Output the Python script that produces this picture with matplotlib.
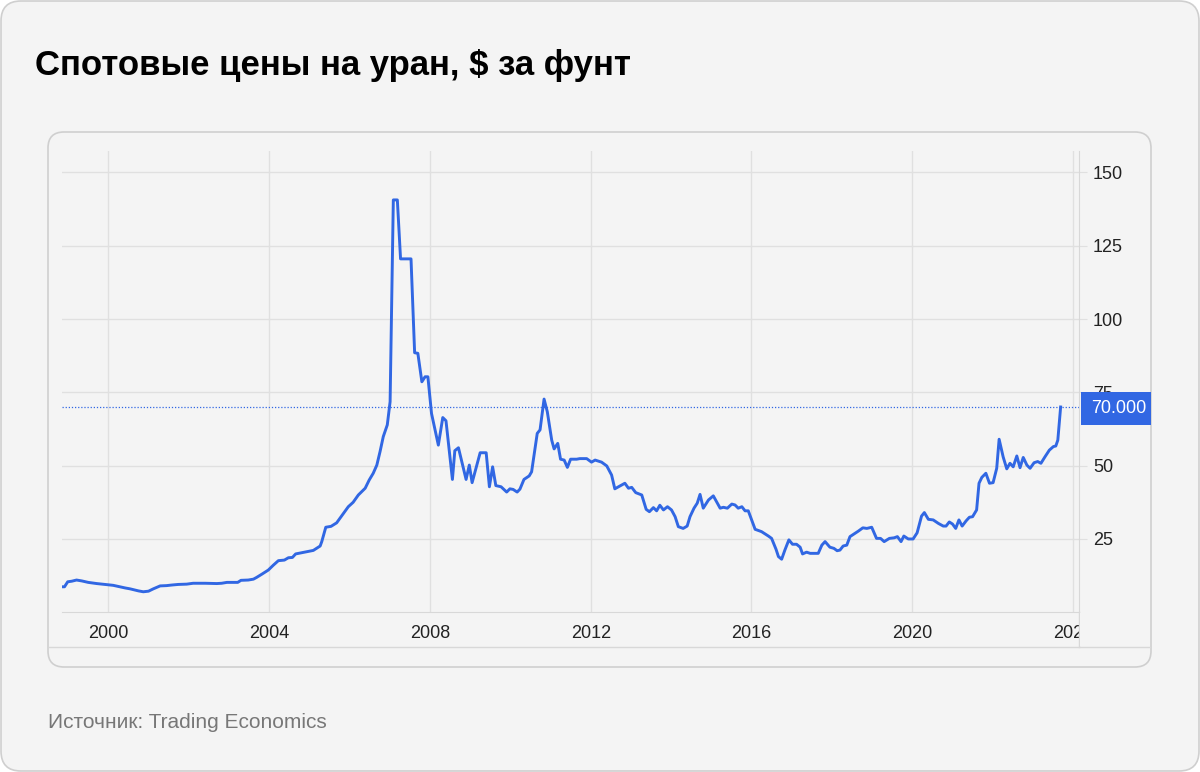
import matplotlib.pyplot as plt
from matplotlib.patches import FancyBboxPatch, Rectangle
from matplotlib.lines import Line2D
from matplotlib import font_manager

# uranium spot price, USD per lb
years = [1998.84, 1998.91, 1998.99, 1999.09, 1999.21, 1999.34, 1999.50, 1999.71, 1999.92,
         2000.12, 2000.42, 2000.54, 2000.75, 2000.87, 2001.00, 2001.12, 2001.29, 2001.45,
         2001.58, 2001.74, 2001.95, 2002.11, 2002.41, 2002.70, 2002.82, 2002.95, 2003.07,
         2003.22, 2003.30, 2003.48, 2003.61, 2003.69, 2003.82, 2003.98, 2004.10, 2004.23,
         2004.38, 2004.48, 2004.58, 2004.66, 2004.81, 2004.96, 2005.10, 2005.27, 2005.31,
         2005.41, 2005.54, 2005.68, 2005.85, 2005.97, 2006.09, 2006.22, 2006.30, 2006.39,
         2006.49, 2006.59, 2006.68, 2006.76, 2006.84, 2006.94, 2007.01, 2007.09, 2007.19,
         2007.27, 2007.53, 2007.62, 2007.70, 2007.80, 2007.88, 2007.95, 2008.04, 2008.21,
         2008.32, 2008.40, 2008.56, 2008.62, 2008.71, 2008.90, 2008.98, 2009.05, 2009.25,
         2009.40, 2009.48, 2009.56, 2009.64, 2009.77, 2009.91, 2009.99, 2010.07, 2010.17,
         2010.24, 2010.34, 2010.47, 2010.53, 2010.67, 2010.74, 2010.84, 2010.92, 2011.03,
         2011.09, 2011.18, 2011.25, 2011.34, 2011.42, 2011.50, 2011.65, 2011.73, 2011.90,
         2012.02, 2012.11, 2012.27, 2012.40, 2012.52, 2012.60, 2012.73, 2012.85, 2012.94,
         2013.02, 2013.12, 2013.27, 2013.38, 2013.46, 2013.56, 2013.64, 2013.72, 2013.81,
         2013.91, 2014.01, 2014.10, 2014.18, 2014.30, 2014.40, 2014.47, 2014.57, 2014.65,
         2014.72, 2014.80, 2014.93, 2015.05, 2015.22, 2015.30, 2015.40, 2015.51, 2015.59,
         2015.67, 2015.76, 2015.84, 2015.92, 2016.09, 2016.25, 2016.42, 2016.50, 2016.61,
         2016.67, 2016.75, 2016.83, 2016.93, 2017.02, 2017.12, 2017.21, 2017.27, 2017.37,
         2017.46, 2017.66, 2017.75, 2017.83, 2017.95, 2018.05, 2018.13, 2018.20, 2018.28,
         2018.37, 2018.45, 2018.57, 2018.66, 2018.77, 2018.87, 2018.99, 2019.11, 2019.21,
         2019.30, 2019.43, 2019.55, 2019.63, 2019.72, 2019.79, 2019.90, 2020.02, 2020.12,
         2020.23, 2020.30, 2020.40, 2020.52, 2020.65, 2020.77, 2020.84, 2020.92, 2021.00,
         2021.08, 2021.16, 2021.24, 2021.34, 2021.42, 2021.50, 2021.60, 2021.66, 2021.73,
         2021.83, 2021.92, 2022.01, 2022.10, 2022.16, 2022.26, 2022.35, 2022.43, 2022.51,
         2022.60, 2022.68, 2022.76, 2022.85, 2022.93, 2023.03, 2023.12, 2023.20, 2023.30,
         2023.41, 2023.51, 2023.57, 2023.62, 2023.69]
prices = [8.7, 8.7, 10.4, 10.6, 11.0, 10.7, 10.2, 9.8, 9.5,
          9.2, 8.3, 8.0, 7.3, 7.0, 7.2, 8.0, 9.0, 9.1,
          9.3, 9.5, 9.6, 9.9, 9.9, 9.8, 9.9, 10.2, 10.2,
          10.2, 10.9, 11.0, 11.3, 11.9, 13.0, 14.4, 16.0, 17.6,
          17.8, 18.6, 18.7, 19.9, 20.3, 20.7, 21.1, 22.6, 24.1,
          29.0, 29.3, 30.5, 33.7, 36.0, 37.5, 40.0, 41.1, 42.3,
          45.1, 47.4, 50.2, 54.8, 59.9, 63.9, 71.8, 140.6, 140.6,
          120.5, 120.5, 88.5, 88.3, 78.6, 80.3, 80.3, 67.8, 57.0,
          66.4, 65.3, 45.3, 55.1, 56.1, 45.3, 50.2, 44.2, 54.4,
          54.4, 42.8, 49.6, 43.2, 42.8, 41.0, 42.1, 41.9, 41.0,
          42.0, 45.3, 46.5, 47.9, 61.0, 62.2, 72.7, 68.4, 58.7,
          55.7, 57.6, 52.2, 51.9, 49.4, 52.2, 52.2, 52.4, 52.4,
          51.2, 51.9, 51.2, 49.9, 46.8, 42.1, 43.1, 44.0, 42.3,
          42.6, 40.8, 40.0, 35.1, 34.3, 35.7, 34.6, 36.5, 34.9,
          36.0, 34.9, 32.6, 29.2, 28.6, 29.4, 32.6, 35.5, 37.2,
          40.2, 35.5, 38.3, 39.7, 35.5, 35.8, 35.5, 36.9, 36.6,
          35.5, 36.0, 34.6, 34.6, 28.3, 27.5, 26.0, 25.2, 21.5,
          19.0, 18.1, 21.2, 24.7, 23.2, 23.2, 22.2, 19.9, 20.5,
          20.1, 20.1, 22.9, 24.1, 22.2, 21.8, 21.0, 21.2, 22.6,
          22.9, 25.8, 26.9, 27.7, 28.8, 28.6, 29.0, 25.2, 25.2,
          24.1, 25.2, 25.4, 25.8, 24.1, 26.0, 25.0, 25.0, 27.1,
          32.8, 34.0, 31.7, 31.5, 30.3, 29.4, 29.4, 30.8, 30.1,
          28.6, 31.5, 29.4, 31.2, 32.4, 32.6, 34.9, 44.0, 46.0,
          47.4, 44.0, 44.2, 49.1, 59.0, 53.0, 48.9, 50.8, 49.6,
          53.3, 49.3, 52.8, 50.2, 49.1, 51.0, 51.4, 50.8, 53.0,
          55.3, 56.5, 56.7, 58.7, 70.0]
last_price = 70.0
x_ticks = [2000, 2004, 2008, 2012, 2016, 2020, 2024]
y_ticks = [25, 50, 75, 100, 125, 150]

title = 'Спотовые цены на уран, $ за фунт'
source = 'Источник: Trading Economics'

W, H = 1200, 772
bg = '#f4f4f4'
blue = '#3167e3'
grid = '#e0e0e0'

fig = plt.figure(figsize=(12, 7.72), dpi=100)
fig.patch.set_facecolor('white')
plt.rcParams['font.family'] = ['Liberation Sans', 'DejaVu Sans']

# narrow face for the title if one is installed
installed = {f.name for f in font_manager.fontManager.ttflist}
title_family = 'Liberation Sans'
title_size = 25
for name in ['Liberation Sans Narrow', 'DejaVu Sans Condensed']:
    if name in installed:
        title_family = name
        title_size = 27
        break


def fx(px):
    return px / W


def fy(py):
    return 1 - py / H


def card(x0, y0, x1, y1, r, z):
    # rounded box given in pixel coords (y from top)
    p = FancyBboxPatch((x0 / 100, (H - y1) / 100), (x1 - x0) / 100, (y1 - y0) / 100,
                       boxstyle='round,pad=0,rounding_size=%f' % (r / 100),
                       transform=fig.dpi_scale_trans, facecolor=bg,
                       edgecolor='#cfcfcf', lw=1.2, zorder=z)
    fig.add_artist(p)


card(1, 1, 1199, 771, 20, -3)
card(48, 132, 1151, 667, 16, -2)

ax = fig.add_axes([fx(62), fy(612.3), (1079 - 62) / W, (612.3 - 150.5) / H])
ax.set_facecolor('none')
ax.plot(years, prices, color=blue, lw=2.1, solid_joinstyle='round', zorder=3)
ax.axhline(last_price, color=blue, lw=0.9, ls=(0, (1, 1.5)), zorder=2)

ax.set_xlim(1998.848, 2024.147)
ax.set_ylim(0, 157.45)
ax.set_xticks(x_ticks)
ax.set_xticklabels([str(v) for v in x_ticks])
ax.set_yticks(y_ticks)
ax.yaxis.tick_right()
ax.grid(color=grid, lw=1.0)
ax.tick_params(axis='x', length=0, pad=9, labelsize=13, labelcolor='#222222')
ax.tick_params(axis='y', length=6, color=grid, pad=4, labelsize=13, labelcolor='#222222')
for s in ['top', 'left']:
    ax.spines[s].set_visible(False)
for s in ['bottom', 'right']:
    ax.spines[s].set_color('#d8d8d8')

# frame lines under the plot
fig.add_artist(Line2D([fx(1079), fx(1079)], [fy(612), fy(647)], color='#d8d8d8', lw=1))
fig.add_artist(Line2D([fx(49), fx(1150)], [fy(647), fy(647)], color='#d8d8d8', lw=1))

# hide the part of the last year label past the plot edge
fig.add_artist(Rectangle((fx(1080), fy(646)), fx(70), 33 / H, facecolor=bg,
                         edgecolor='none', zorder=5))

# last value badge
fig.add_artist(Rectangle((fx(1081), fy(425)), fx(70), 33 / H, facecolor=blue,
                         edgecolor='none', zorder=6))
fig.text(fx(1091), fy(408.5), '%.3f' % last_price, color='white', fontsize=13,
         va='center', ha='left', zorder=7)

fig.text(fx(35), fy(75), title, fontsize=title_size, fontweight='bold',
         family=title_family, va='baseline')
fig.text(fx(48), fy(728), source, fontsize=15, color='#777777', va='baseline')

fig.savefig('out.png', dpi=100, facecolor=fig.get_facecolor())
